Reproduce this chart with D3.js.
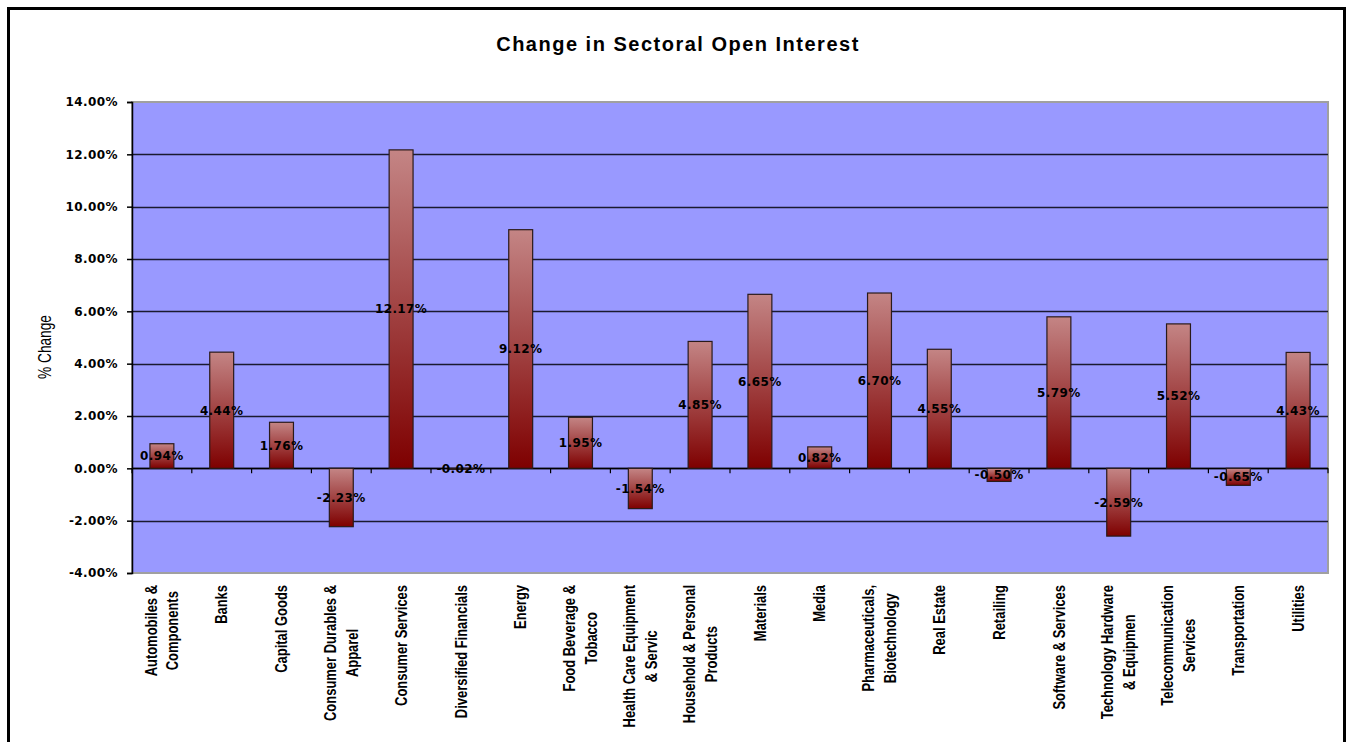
<!DOCTYPE html>
<html><head><meta charset="utf-8">
<script src="https://cdn.jsdelivr.net/npm/d3@7"></script>
<style>
html,body{margin:0;padding:0;background:#fff;}
svg{display:block;}
</style></head>
<body>
<script>
const categories = [
  ["Automobiles &","Components"],["Banks"],["Capital Goods"],["Consumer Durables &","Apparel"],
  ["Consumer Services"],["Diversified Financials"],["Energy"],["Food Beverage &","Tobacco"],
  ["Health Care Equipment","& Servic"],["Household & Personal","Products"],["Materials"],["Media"],
  ["Pharmaceuticals,","Biotechnology"],["Real Estate"],["Retailing"],["Software & Services"],
  ["Technology Hardware","& Equipmen"],["Telecommunication","Services"],["Transportation"],["Utilities"]
];
const values = [0.94,4.44,1.76,-2.23,12.17,-0.02,9.12,1.95,-1.54,4.85,6.65,0.82,6.70,4.55,-0.50,5.79,-2.59,5.52,-0.65,4.43];
const yTicks = [-4,-2,0,2,4,6,8,10,12,14];
const title = "Change in Sectoral Open Interest";
const yTitle = "% Change";

const W = 1351, H = 742;
const svg = d3.select("body").append("svg").attr("width", W).attr("height", H);

const defs = svg.append("defs");
const grad = defs.append("linearGradient").attr("id","barGrad").attr("x1",0).attr("y1",0).attr("x2",0).attr("y2",1);
grad.append("stop").attr("offset","0%").attr("stop-color","#C48585");
grad.append("stop").attr("offset","100%").attr("stop-color","#7E0000");

// outer border
svg.append("rect").attr("x",8.5).attr("y",8.5).attr("width",1336).attr("height",760)
  .attr("fill","#fff").attr("stroke","#000").attr("stroke-width",3);

const L = 132, R = 1328, T = 102, B = 573;
const x = d3.scaleBand().domain(d3.range(values.length)).range([L, R]).paddingInner(0.6).paddingOuter(0.3);
const y = d3.scaleLinear().domain([-4, 14]).range([B, T]);

const numFont = "'DejaVu Sans', Verdana, sans-serif";

// plot area
svg.append("rect").attr("x",L).attr("y",T).attr("width",R-L).attr("height",B-T)
  .attr("fill","#9999FF").attr("stroke","#A0A0A0").attr("stroke-width",2);

// gridlines
svg.append("g").selectAll("line").data(yTicks.filter(d=>d>-4 && d<14)).join("line")
  .attr("x1",L).attr("x2",R).attr("y1",d=>Math.round(y(d))+0.5).attr("y2",d=>Math.round(y(d))+0.5)
  .attr("stroke","#1a1a30").attr("stroke-width",1.7);

// y axis
const yAxis = d3.axisLeft(y).tickValues(yTicks).tickSize(5).tickPadding(9)
  .tickFormat(d => d.toFixed(2) + "%");
const gy = svg.append("g").attr("transform",`translate(${L},0)`).call(yAxis);
gy.select(".domain").attr("stroke","#000").attr("stroke-width",1.5);
gy.selectAll(".tick line").attr("stroke","#000").attr("stroke-width",1.5);
gy.selectAll(".tick text").attr("font-family",numFont)
  .attr("font-weight","bold").attr("font-size",12).attr("letter-spacing","0.4px").attr("fill","#000");

// category axis ticks at zero
const step = x.step();
svg.append("g").selectAll("line").data(d3.range(values.length+1)).join("line")
  .attr("x1",i=>L + i*step).attr("x2",i=>L + i*step)
  .attr("y1",y(0)).attr("y2",y(0)+5).attr("stroke","#000").attr("stroke-width",1.2);
svg.append("line").attr("x1",L).attr("x2",R).attr("y1",Math.round(y(0))+0.5).attr("y2",Math.round(y(0))+0.5)
  .attr("stroke","#000").attr("stroke-width",1.7);

// bars
svg.append("g").selectAll("rect").data(values).join("rect")
  .attr("x",(d,i)=>x(i)).attr("width",x.bandwidth())
  .attr("y",d=>y(Math.max(0,d))).attr("height",d=>Math.max(1,Math.abs(y(d)-y(0))))
  .attr("fill","url(#barGrad)").attr("stroke","#2a1a1a").attr("stroke-width",1.2);

// value labels
svg.append("g").selectAll("text").data(values).join("text")
  .attr("x",(d,i)=>x(i)+x.bandwidth()/2).attr("y",d=>y(d/2))
  .attr("dy","0.36em").attr("text-anchor","middle")
  .attr("font-family",numFont).attr("font-weight","bold")
  .attr("font-size",12).attr("letter-spacing","0.4px").attr("fill","#000")
  .text(d => d.toFixed(2) + "%");

// category labels
const catG = svg.append("g");
categories.forEach((lines, i) => {
  const cx = x(i) + x.bandwidth()/2;
  const g = catG.append("g").attr("transform",`translate(${cx},585) rotate(-90) scale(0.81,1)`);
  const n = lines.length;
  const ts = lines.map((ln, k) => g.append("text")
    .attr("y", (k - (n-1)/2)*22)
    .attr("dy","0.35em")
    .attr("font-family","'Liberation Sans', Arial, sans-serif").attr("font-weight","bold")
    .attr("font-size",16).attr("fill","#000").text(ln));
  const maxLen = d3.max(ts, t => t.node().getComputedTextLength());
  ts.forEach(t => t.attr("x", -maxLen/2).attr("text-anchor","middle"));
});

// y title
svg.append("g").attr("transform","translate(44,347) rotate(-90) scale(0.72,1)")
  .append("text").attr("text-anchor","middle").attr("dy","0.35em")
  .attr("font-family","'Liberation Sans', Arial, sans-serif").attr("font-weight","normal")
  .attr("font-size",19).attr("fill","#000").text(yTitle);

// title
svg.append("text").attr("x",678).attr("y",51).attr("text-anchor","middle")
  .attr("font-family","'Liberation Sans', Arial, sans-serif").attr("font-weight","bold")
  .attr("font-size",20).attr("letter-spacing","1.5px").attr("fill","#000").text(title);
</script>
</body></html>
